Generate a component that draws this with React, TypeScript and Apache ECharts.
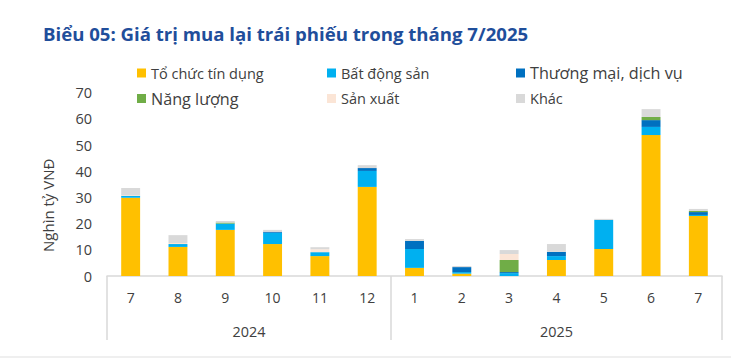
import React, { useEffect, useRef } from "react";
import * as echarts from "echarts";

const months = ["7", "8", "9", "10", "11", "12", "1", "2", "3", "4", "5", "6", "7"];
const years = ["2024", "2025"];
const tctd = [29.9, 11.1, 17.6, 12.2, 7.6, 34.0, 3.1, 0.9, 0, 6.1, 10.3, 53.8, 22.9];
const bds = [0.7, 1.1, 2.4, 4.3, 1.5, 6.1, 7.2, 0.6, 1.1, 1.5, 11.1, 3.1, 0.4];
const tmdv = [0, 0, 0, 0.4, 0, 1.1, 3.1, 1.9, 0.4, 1.6, 0, 2.6, 1.1];
const nangLuong = [0, 0, 0.4, 0, 0, 0, 0, 0, 4.6, 0, 0, 1.2, 0.4];
const sanXuat = [0.3, 0.4, 0, 0, 1.1, 0, 0, 0, 2.3, 0, 0, 0, 0];
const khac = [2.7, 3.0, 0.6, 0.7, 0.8, 1.1, 0.7, 0.4, 1.5, 3.0, 0.4, 3.0, 0.8];

const seriesNames = ["Tổ chức tín dụng", "Bất động sản", "Thương mại, dịch vụ", "Năng lượng", "Sản xuất", "Khác"];
const seriesData = [tctd, bds, tmdv, nangLuong, sanXuat, khac];
const colors = ["#FFC000", "#00B0F0", "#0070C0", "#70AD47", "#FBE5D6", "#D9D9D9"];

export default function App() {
  const ref = useRef<HTMLDivElement>(null);
  useEffect(() => {
    document.body.style.margin = "0";
    const chart = echarts.init(ref.current!, null, { renderer: "svg" });
    const font = "'Open Sans', sans-serif";
    const bigNames = ["Thương mại, dịch vụ", "Năng lượng"];
    const mkLegend = (left: number, top: number, name: string) => ({
      left,
      top,
      orient: "horizontal",
      itemWidth: 9,
      itemHeight: 9,
      itemGap: 0,
      icon: "rect",
      data: [name],
      selectedMode: false,
      textStyle: {
        color: "#404040",
        fontSize: bigNames.includes(name) ? 16.2 : 14.5,
        fontFamily: font,
        lineHeight: 16,
      },
    });
    const colLeft = [132, 322, 511];
    const rowTop = [60, 85.5];
    const legendOrder = [
      [0, 0, 0],
      [1, 0, 1],
      [2, 0, 2],
      [3, 1, 0],
      [4, 1, 1],
      [5, 1, 2],
    ];
    chart.setOption({
      animation: false,
      color: colors,
      title: {
        text: "Biểu 05: Giá trị mua lại trái phiếu trong tháng 7/2025",
        left: 38,
        top: 19,
        textStyle: { color: "#1F4E9B", fontSize: 18.6, fontWeight: "bold", fontFamily: font },
      },
      legend: legendOrder.map(([si, r, c]) => mkLegend(colLeft[c], rowTop[r], seriesNames[si])),
      grid: { left: 107, right: 9, top: 92.6, bottom: 84, containLabel: false },
      xAxis: [
        {
          type: "category",
          data: months,
          axisLine: { lineStyle: { color: "#D9D9D9", width: 1.5 } },
          axisTick: {
            show: true,
            length: 64,
            interval: (i: number) => i === 0 || i === 6,
            lineStyle: { color: "#D9D9D9", width: 1.5 },
          },
          axisLabel: { interval: 0, color: "#404040", fontSize: 14, fontFamily: font, margin: 14 },
        },
        {
          type: "value",
          min: 0,
          max: 13,
          interval: 0.5,
          position: "bottom",
          offset: 40,
          axisLine: { show: false },
          axisTick: { show: false },
          splitLine: { show: false },
          axisLabel: {
            color: "#404040",
            fontSize: 14.4,
            fontFamily: font,
            margin: 8,
            formatter: (v: number) => (v === 3 ? years[0] : v === 9.5 ? years[1] : ""),
          },
        },
      ],
      yAxis: {
        type: "value",
        min: 0,
        max: 70,
        interval: 10,
        name: "Nghìn tỷ VNĐ",
        nameLocation: "middle",
        nameGap: 52,
        nameTextStyle: { color: "#404040", fontSize: 15, fontFamily: font, padding: [0, 42, 0, 0] },
        axisLine: { show: false },
        axisTick: { show: false },
        splitLine: { show: false },
        axisLabel: { color: "#404040", fontSize: 14.5, fontFamily: font, margin: 15 },
      },
      series: seriesNames.map((name, i) => ({
        name,
        type: "bar",
        stack: "total",
        barWidth: "40%",
        xAxisIndex: 0,
        data: seriesData[i],
        itemStyle: { color: colors[i] },
      })),
      graphic: [
        {
          type: "rect",
          shape: { x: 0, y: 356, width: 731, height: 2 },
          style: { fill: "#EFEFEF" },
          silent: true,
        },
      ],
    });
    return () => chart.dispose();
  }, []);
  return <div ref={ref} style={{ width: 731, height: 360 }} />;
}
